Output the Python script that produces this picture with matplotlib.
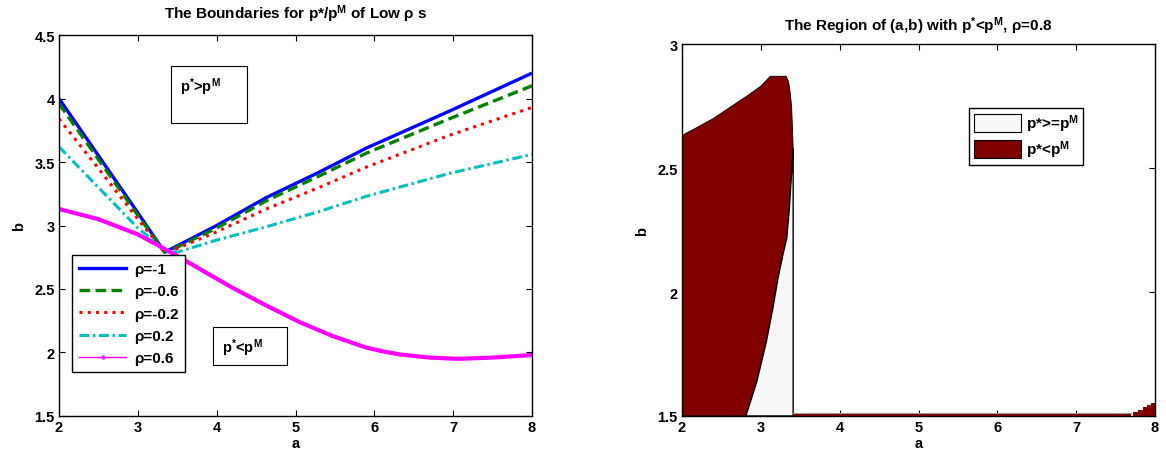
import matplotlib
matplotlib.use("Agg")
import matplotlib.pyplot as plt
from matplotlib.lines import Line2D
from matplotlib.patches import Patch, Rectangle

plt.rcParams['font.family'] = ['Liberation Sans', 'DejaVu Sans']
plt.rcParams['font.weight'] = 'bold'
plt.rcParams['mathtext.fontset'] = 'custom'
plt.rcParams['mathtext.rm'] = 'Liberation Sans:bold'
plt.rcParams['mathtext.it'] = 'Liberation Sans:bold'
plt.rcParams['mathtext.bf'] = 'Liberation Sans:bold'
plt.rcParams['mathtext.default'] = 'bf'

# ---- boundary curves for low rho ----
a_vals = [2.0, 2.5, 3.0, 3.34, 3.5, 4.0, 4.63, 5.3, 5.9, 6.95, 8.0]
b_rho_m1 = [4.00, 3.55, 3.10, 2.79, 2.84, 3.00, 3.22, 3.42, 3.61, 3.90, 4.20]
b_rho_m06 = [3.96, 3.52, 3.08, 2.79, 2.83, 2.98, 3.195, 3.39, 3.57, 3.84, 4.10]
b_rho_m02 = [3.84, 3.45, 3.05, 2.79, 2.82, 2.95, 3.13, 3.30, 3.46, 3.71, 3.93]
b_rho_02 = [3.62, 3.30, 2.98, 2.81, 2.79, 2.885, 2.99, 3.11, 3.23, 3.41, 3.56]

a_vals_06 = [2.0, 2.5, 3.0, 3.24, 3.5, 3.78, 4.2, 4.63, 5.05, 5.47, 5.89,
             6.1, 6.32, 6.7, 7.07, 7.5, 8.0]
b_rho_06 = [3.13, 3.05, 2.93, 2.85, 2.76, 2.66, 2.51, 2.37, 2.24, 2.13, 2.04,
            2.01, 1.985, 1.96, 1.95, 1.96, 1.98]

legend_labels = ['ρ=-1', 'ρ=-0.6', 'ρ=-0.2', 'ρ=0.2', 'ρ=0.6']

# ---- region for rho = 0.8 ----
a_top = [2.0, 2.05, 2.2, 2.4, 2.61, 2.8, 3.0, 3.12, 3.32, 3.35, 3.37, 3.39, 3.40, 3.41]
b_top = [2.63, 2.64, 2.665, 2.70, 2.745, 2.785, 2.83, 2.87, 2.87, 2.85, 2.81, 2.75, 2.67, 2.58]
a_div = [3.41, 3.395, 3.38, 3.36, 3.33, 3.28, 3.22, 3.15, 3.07, 2.95, 2.88, 2.81]
b_div = [2.58, 2.50, 2.43, 2.33, 2.22, 2.15, 2.06, 1.93, 1.80, 1.64, 1.57, 1.50]
a_strip = [3.41, 7.70]
b_strip = [1.51, 1.51]
a_bump = [7.72, 7.78, 7.85, 7.90, 7.95, 8.0]
b_bump = [1.50, 1.515, 1.525, 1.535, 1.545, 1.552]
b_floor = 1.5
a_split = 3.41

dark = '#800000'
light = '#f7f7f7'

fig = plt.figure(figsize=(11.66, 4.64), dpi=100)
ax1 = fig.add_axes([0.0506, 0.1013, 0.4057, 0.8211])
ax2 = fig.add_axes([0.5849, 0.1013, 0.4057, 0.8017])

for ax in (ax1, ax2):
    ax.tick_params(direction='in', top=True, right=True, length=4, width=0.8,
                   labelsize=10.5, pad=3)
    for s in ax.spines.values():
        s.set_linewidth(1.0)

# ---- left panel ----
ax1.plot(a_vals, b_rho_m1, color='#0000ff', lw=2.4, solid_capstyle='butt')
ax1.plot(a_vals, b_rho_m06, color='#008000', lw=2.4, linestyle=(0, (3.2, 1.6)))
ax1.plot(a_vals, b_rho_m02, color='#ff0000', lw=2.2, linestyle=(0, (1, 1.7)))
ax1.plot(a_vals, b_rho_02, color='#00bfbf', lw=2.2, linestyle=(0, (3.2, 1.2, 0.8, 1.2)))
ax1.plot(a_vals_06, b_rho_06, color='#ff00ff', lw=3.0)

ax1.set_xlim(2, 8)
ax1.set_ylim(1.5, 4.5)
ax1.set_xticks([2, 3, 4, 5, 6, 7, 8])
ax1.set_yticks([1.5, 2, 2.5, 3, 3.5, 4, 4.5])
ax1.set_yticklabels(['1.5', '2', '2.5', '3', '3.5', '4', '4.5'])
ax1.set_xlabel('a', fontsize=10.5, fontweight='bold', labelpad=1)
ax1.set_ylabel('b', fontsize=10.5, fontweight='bold', labelpad=6)
ax1.set_title(r'The Boundaries for p*/p$^{M}$ of Low ρ s', fontsize=11,
              fontweight='bold', pad=12)

handles = [
    Line2D([], [], color='#0000ff', lw=2.4),
    Line2D([], [], color='#008000', lw=2.4, linestyle=(0, (3.2, 1.6))),
    Line2D([], [], color='#ff0000', lw=2.2, linestyle=(0, (1, 1.7))),
    Line2D([], [], color='#00bfbf', lw=2.2, linestyle=(0, (3.2, 1.2, 0.8, 1.2))),
    Line2D([], [], color='#ff00ff', lw=1.0, marker='.', markersize=4),
]
leg1 = ax1.legend(handles, legend_labels, loc='upper left',
                  bbox_to_anchor=(0.0275, 0.4226), borderaxespad=0,
                  fontsize=11, frameon=True, fancybox=False, framealpha=1,
                  edgecolor='black', handlelength=3.1, handletextpad=0.5,
                  labelspacing=0.55, borderpad=0.45)
leg1.get_frame().set_linewidth(1.0)
for t in leg1.get_texts():
    t.set_fontweight('bold')

ax1.add_patch(Rectangle((0.237, 0.769), 0.160, 0.150, transform=ax1.transAxes,
                        fill=False, edgecolor='black', lw=0.8))
ax1.text(0.256, 0.866, r'p$^{*}$>p$^{M}$', transform=ax1.transAxes,
         fontsize=10.5, fontweight='bold', va='center', ha='left')
ax1.add_patch(Rectangle((0.326, 0.134), 0.156, 0.100, transform=ax1.transAxes,
                        fill=False, edgecolor='black', lw=0.8))
ax1.text(0.345, 0.181, r'p$^{*}$<p$^{M}$', transform=ax1.transAxes,
         fontsize=10.5, fontweight='bold', va='center', ha='left')

# ---- right panel ----
dark_x = [a_top[0]] + a_top + a_div[1:] + [a_top[0]]
dark_y = [b_floor] + b_top + b_div[1:] + [b_floor]
ax2.fill(dark_x, dark_y, facecolor=dark, edgecolor='black', lw=0.6, zorder=2)

light_x = a_div + [a_split, a_split]
light_y = b_div + [b_floor, b_div[0]]
ax2.fill(light_x, light_y, facecolor=light, edgecolor='black', lw=1.0, zorder=2)

ax2.fill_between(a_strip, b_floor, b_strip, color=dark, lw=0, zorder=2)
ax2.plot(a_strip, [b + 0.004 for b in b_strip], color='#9a9a9a', lw=0.8, zorder=2)
ax2.fill_between(a_bump, b_floor, b_bump, step='pre', color=dark, lw=0, zorder=2)

ax2.set_xlim(2, 8)
ax2.set_ylim(1.5, 3)
ax2.set_xticks([2, 3, 4, 5, 6, 7, 8])
ax2.set_yticks([1.5, 2, 2.5, 3])
ax2.set_yticklabels(['1.5', '2', '2.5', '3'])
ax2.set_xlabel('a', fontsize=10.5, fontweight='bold', labelpad=1)
ax2.set_ylabel('b', fontsize=10.5, fontweight='bold', labelpad=6)
ax2.set_title(r'The Region of (a,b) with p$^{*}$<p$^{M}$, ρ=0.8', fontsize=11,
              fontweight='bold', pad=10)

patches = [Patch(facecolor=light, edgecolor='black', lw=0.8),
           Patch(facecolor=dark, edgecolor='black', lw=0.8)]
leg2 = ax2.legend(patches, [r'p*>=p$^{M}$', r'p*<p$^{M}$'], loc='upper left',
                  bbox_to_anchor=(0.607, 0.828), borderaxespad=0,
                  fontsize=11, frameon=True, fancybox=False, framealpha=1,
                  edgecolor='black', handlelength=3.1, handleheight=1.4,
                  handletextpad=0.3, labelspacing=0.3, borderpad=0.3)
leg2.get_frame().set_linewidth(1.0)
for t in leg2.get_texts():
    t.set_fontweight('bold')

for ax in (ax1, ax2):
    for t in ax.get_xticklabels() + ax.get_yticklabels():
        t.set_fontweight('bold')

fig.savefig('out.png', dpi=100)
